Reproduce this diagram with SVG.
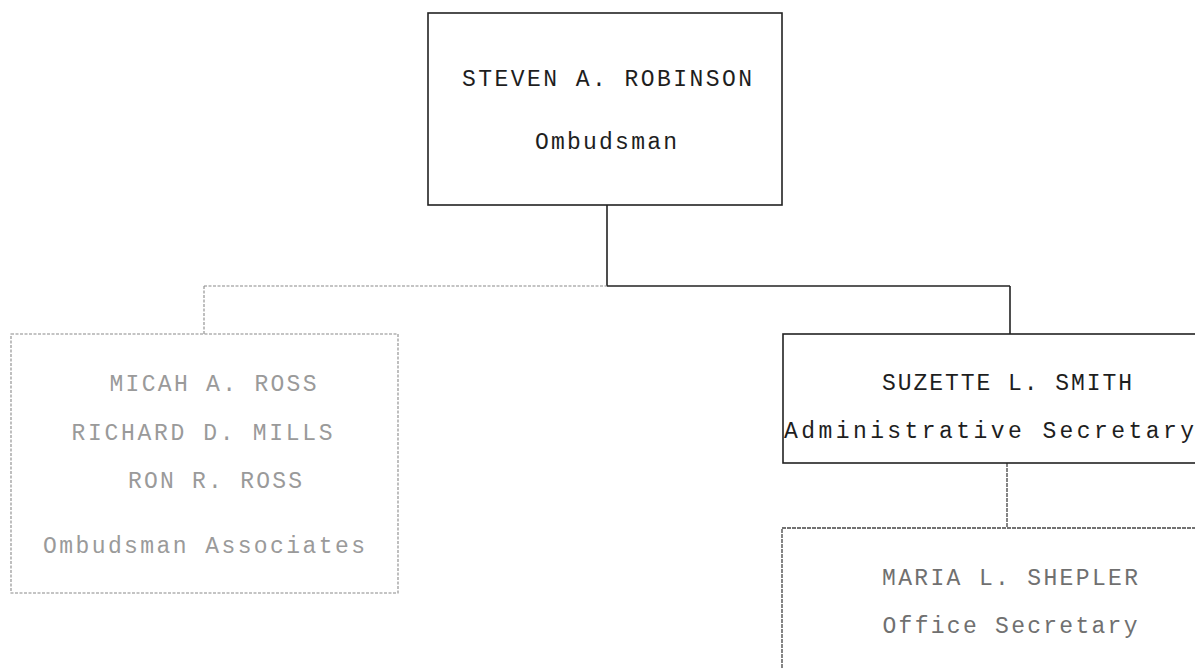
<svg xmlns="http://www.w3.org/2000/svg" width="1195" height="668" viewBox="0 0 1195 668">
<style>
  text{font-family:"Liberation Mono","DejaVu Sans Mono",monospace;font-size:23px;text-anchor:middle;}
  .dark{fill:#1e1e1e;}
  .faint{fill:#9a9a9a;}
  .mid{fill:#707070;}
  .box-dark{fill:none;stroke:#222;stroke-width:1.6;}
  .box-faint{fill:none;stroke:#8a8a8a;stroke-width:1.1;stroke-dasharray:3 1.5;}
  .box-mid{fill:none;stroke:#444;stroke-width:1.3;stroke-dasharray:4 1;}
  .ln-dark{fill:none;stroke:#222;stroke-width:1.6;}
  .ln-faint{fill:none;stroke:#8a8a8a;stroke-width:1.1;stroke-dasharray:3 1.5;}
  .ln-mid{fill:none;stroke:#444;stroke-width:1.3;stroke-dasharray:4 1;}
</style>
<rect width="1195" height="668" fill="#fff"/>
<g id="connectors">
  <line class="ln-dark" x1="607" y1="205" x2="607" y2="286"/>
  <line class="ln-faint" x1="204" y1="286" x2="607" y2="286"/>
  <line class="ln-dark" x1="607" y1="286" x2="1010" y2="286"/>
  <line class="ln-faint" x1="204" y1="286" x2="204" y2="334"/>
  <line class="ln-dark" x1="1010" y1="286" x2="1010" y2="334"/>
  <line class="ln-mid" x1="1007" y1="463" x2="1007" y2="528"/>
</g>
<g id="node-robinson">
  <rect class="box-dark" x="428" y="13" width="354" height="192"/>
  <text class="dark" x="607" y="86" textLength="290" lengthAdjust="spacing">STEVEN A. ROBINSON</text>
  <text class="dark" x="606" y="149" textLength="142" lengthAdjust="spacing">Ombudsman</text>
</g>
<g id="node-associates">
  <rect class="box-faint" x="11" y="334" width="387" height="259"/>
  <text class="faint" x="213" y="391" textLength="207" lengthAdjust="spacing">MICAH A. ROSS</text>
  <text class="faint" x="202" y="440" textLength="261" lengthAdjust="spacing">RICHARD D. MILLS</text>
  <text class="faint" x="215" y="488" textLength="174" lengthAdjust="spacing">RON R. ROSS</text>
  <text class="faint" x="204" y="553" textLength="322" lengthAdjust="spacing">Ombudsman Associates</text>
</g>
<g id="node-smith">
  <rect class="box-dark" x="783" y="334" width="430" height="129"/>
  <text class="dark" x="1007" y="390" textLength="250" lengthAdjust="spacing">SUZETTE L. SMITH</text>
  <text class="dark" x="989" y="438" textLength="410" lengthAdjust="spacing">Administrative Secretary</text>
</g>
<g id="node-shepler">
  <rect class="box-mid" x="782" y="528" width="430" height="160"/>
  <text class="mid" x="1010" y="585" textLength="256" lengthAdjust="spacing">MARIA L. SHEPLER</text>
  <text class="mid" x="1010" y="633" textLength="255" lengthAdjust="spacing">Office Secretary</text>
</g>
</svg>
